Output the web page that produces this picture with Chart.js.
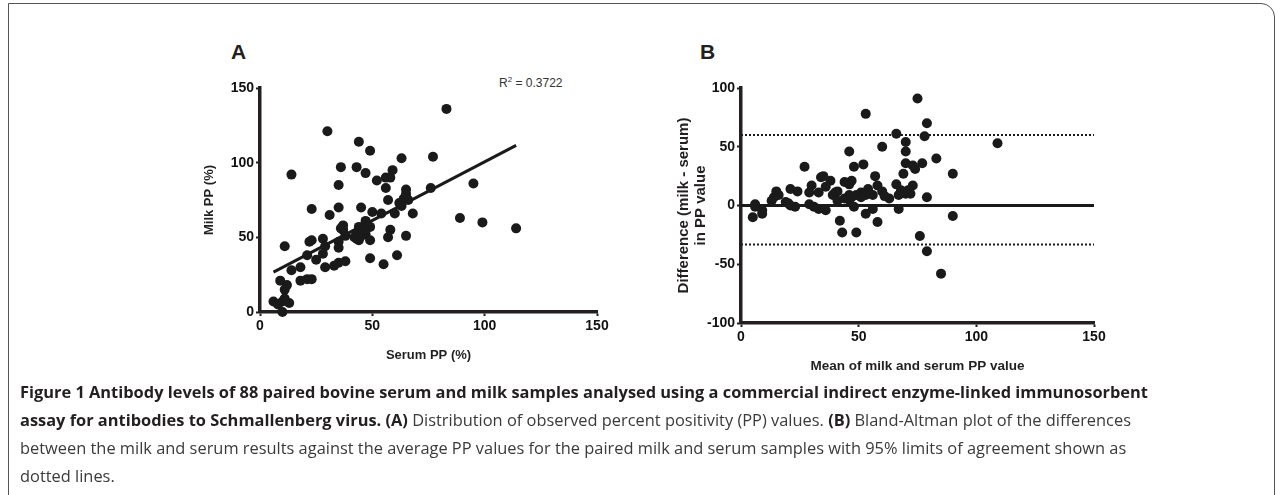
<!DOCTYPE html>
<html>
<head>
<meta charset="utf-8">
<script src="https://cdn.jsdelivr.net/npm/chart.js@4.4.1/dist/chart.umd.min.js"></script>
<style>
  body { margin: 0; background: #fff; width: 1282px; height: 495px; overflow: hidden; position: relative; }
  #frame { position: absolute; left: 8px; top: 3px; width: 1265px; height: 600px; border: 1.5px solid #555; border-top-right-radius: 14px; }
  .panel { position: absolute; }
  .lbl { position: absolute; font-family: "Liberation Sans", Arial, sans-serif; color: #231f20; }
  #caption { position: absolute; left: 20px; top: 378px; font-family: "Open Sans", sans-serif; font-size: 16.4px; line-height: 28px; color: #3a3a3a; white-space: nowrap; }
  #caption b { color: #231f20; }
</style>
</head>
<body>
<div id="frame"></div>
<div class="lbl" style="left:231px;top:40px;font-size:21px;font-weight:bold;">A</div>
<div class="lbl" style="left:700px;top:40px;font-size:21px;font-weight:bold;">B</div>
<div class="lbl" style="left:499px;top:75px;font-size:12px;color:#333;">R<sup style="font-size:8px">2</sup> = 0.3722</div>
<div class="panel" style="left:190px;top:60px;"><canvas id="chartA" width="440" height="310"></canvas></div>
<div class="panel" style="left:640px;top:60px;"><canvas id="chartB" width="480" height="320"></canvas></div>
<div id="caption">
<b>Figure 1 Antibody levels of 88 paired bovine serum and milk samples analysed using a commercial indirect enzyme-linked immunosorbent</b><br>
<b>assay for antibodies to Schmallenberg virus. (A)</b> Distribution of observed percent positivity (PP) values. <b>(B)</b> Bland-Altman plot of the differences<br>
between the milk and serum results against the average PP values for the paired milk and serum samples with 95% limits of agreement shown as<br>
dotted lines.
</div>
<script>
// panel A: paired serum / milk PP values (%)
var serumPP = [83, 30, 44, 49, 63, 77, 14, 36, 43, 47,
  59, 56, 58, 52, 35, 56, 65, 76, 65, 57,
  62, 64, 66, 63, 23, 35, 45, 31, 50, 54,
  60, 68, 89, 95, 99, 114, 11, 22, 23, 28,
  29, 35, 35, 37, 37, 38, 43, 44, 47, 49,
  47, 49, 47, 58, 57, 65, 21, 25, 18, 14,
  29, 33, 35, 38, 49, 55, 61, 18, 21, 23,
  9, 12, 11, 6, 10, 13, 10, 28, 44, 48,
  44, 43, 45, 11, 36, 46, 42, 8];
var milkPP = [136, 121, 114, 108, 103, 104, 92, 97, 97, 93,
  95, 90, 90, 88, 85, 83, 82, 83, 79, 75,
  73, 76, 75, 71, 69, 70, 70, 65, 67, 66,
  66, 66, 63, 86, 60, 56, 44, 47, 48, 49,
  44, 47, 43, 58, 55, 51, 52, 48, 59, 57,
  52, 48, 61, 55, 50, 51, 38, 35, 30, 28,
  30, 31, 33, 34, 36, 32, 38, 21, 22, 22,
  21, 18, 15, 7, 7, 6, 0, 39, 57, 57,
  53, 49, 51, 9, 56, 55, 50, 5];
// linear fit
var fitIntercept = 22.0;
var fitSlope = 0.786;

// panel B: Bland-Altman mean / difference
var meanPP = [75, 53, 79, 66, 78, 70, 70, 46, 60, 83,
  109, 27, 48, 52, 70, 73, 74, 77, 69, 90,
  57, 34, 35, 38, 30, 29, 36, 47, 46, 58,
  60, 66, 73, 71, 70, 68, 67, 21, 24, 15,
  33, 40, 41, 54, 51, 53, 51, 49, 47, 46,
  63, 79, 14, 13, 19, 21, 23, 29, 31, 33,
  36, 6, 6, 9, 9, 5, 39, 41, 46, 48,
  42, 43, 49, 56, 53, 58, 67, 90, 76, 79,
  85, 20, 44, 56, 61, 72, 44, 16];
var diffPP = [91, 78, 70, 61, 59, 54, 46, 46, 50, 40,
  53, 33, 33, 35, 36, 34, 31, 36, 27, 27,
  25, 24, 25, 21, 17, 11, 16, 21, 18, 17,
  12, 18, 17, 13, 10, 13, 9, 14, 12, 12,
  11, 11, 12, 14, 11, 9, 7, 9, 7, 9,
  6, 7, 7, 4, 3, 0, -1, 1, -1, -3,
  -4, 1, -1, -4, -7, -10, 9, 4, 5, -1,
  -13, -23, -23, -3, -7, -14, -3, -9, -26, -39,
  -58, 2, 20, 9, 8, 10, 6, 9];
var upperLimit = 60;
var lowerLimit = -33.2;

var ticksA = [0, 50, 100, 150];
var ticksBx = [0, 50, 100, 150];
var ticksBy = [-100, -50, 0, 50, 100];

var ink = "#231f20";
var fontFam = "'Liberation Sans', Arial, sans-serif";

function pairs(xs, ys) {
  return xs.map(function (x, i) { return { x: x, y: ys[i] }; });
}

// axis with fixed box size so the plot area lands where the figure has it
function axis(vals, fixedSize, horizontal, title) {
  return {
    type: "linear",
    min: vals[0],
    max: vals[vals.length - 1],
    afterBuildTicks: function (s) { s.ticks = vals.map(function (v) { return { value: v }; }); },
    afterFit: function (s) { if (horizontal) { s.height = fixedSize; } else { s.width = fixedSize; } },
    grid: { drawOnChartArea: false, drawTicks: true, tickLength: 4, tickWidth: 2, tickColor: ink },
    border: { display: true, color: ink, width: 3.5 },
    ticks: { color: "#111", padding: 2, font: { family: fontFam, size: 14, weight: "bold" } },
    title: title
  };
}

var dotStyle = { pointRadius: 5, pointBackgroundColor: "#1a1a1a", pointBorderWidth: 0, showLine: false, clip: false };

// ---- chart A
var minSerum = Math.min.apply(null, serumPP);
var maxSerum = Math.max.apply(null, serumPP);
new Chart(document.getElementById("chartA"), {
  type: "scatter",
  data: {
    datasets: [
      Object.assign({ data: pairs(serumPP, milkPP) }, dotStyle),
      { type: "line", data: [{ x: minSerum, y: fitIntercept + fitSlope * minSerum }, { x: maxSerum, y: fitIntercept + fitSlope * maxSerum }],
        borderColor: "#1a1a1a", borderWidth: 3, pointRadius: 0, clip: false }
    ]
  },
  options: {
    responsive: false,
    animation: false,
    events: [],
    layout: { padding: { left: 0, top: 28, right: 33, bottom: 0 } },
    plugins: { legend: { display: false }, tooltip: { enabled: false } },
    scales: {
      x: axis(ticksA, 58, true, { display: true, text: "Serum PP (%)", color: ink, font: { family: fontFam, size: 13, weight: "bold" }, padding: { top: 0, bottom: 7 } }),
      y: axis(ticksA, 70, false, { display: true, text: "Milk PP (%)", color: ink, font: { family: fontFam, size: 13, weight: "bold" }, padding: { top: 12, bottom: 0 } })
    }
  }
});

// ---- chart B
var xFrom = ticksBx[0], xTo = ticksBx[ticksBx.length - 1];
new Chart(document.getElementById("chartB"), {
  type: "scatter",
  data: {
    datasets: [
      Object.assign({ data: pairs(meanPP, diffPP) }, dotStyle),
      { type: "line", data: [{ x: xFrom, y: 0 }, { x: xTo, y: 0 }],
        borderColor: "#1a1a1a", borderWidth: 3, pointRadius: 0, clip: false },
      { type: "line", data: [{ x: xFrom, y: upperLimit }, { x: xTo, y: upperLimit }],
        borderColor: "#1a1a1a", borderWidth: 2, borderDash: [2, 2], pointRadius: 0 },
      { type: "line", data: [{ x: xFrom, y: lowerLimit }, { x: xTo, y: lowerLimit }],
        borderColor: "#1a1a1a", borderWidth: 2, borderDash: [2, 2], pointRadius: 0 }
    ]
  },
  options: {
    responsive: false,
    animation: false,
    events: [],
    layout: { padding: { left: 0, top: 28, right: 26, bottom: 0 } },
    plugins: { legend: { display: false }, tooltip: { enabled: false } },
    scales: {
      x: axis(ticksBx, 57, true, { display: true, text: "Mean of milk and serum PP value", color: ink, font: { family: fontFam, size: 13.5, weight: "bold" }, padding: { top: 0, bottom: 6 } }),
      y: axis(ticksBy, 101, false, { display: true, text: ["Difference (milk - serum)", "in PP value"], color: ink, font: { family: fontFam, size: 15, weight: "bold", lineHeight: 1.15 }, padding: { top: 35, bottom: 0 } })
    }
  }
});
</script>
</body>
</html>
